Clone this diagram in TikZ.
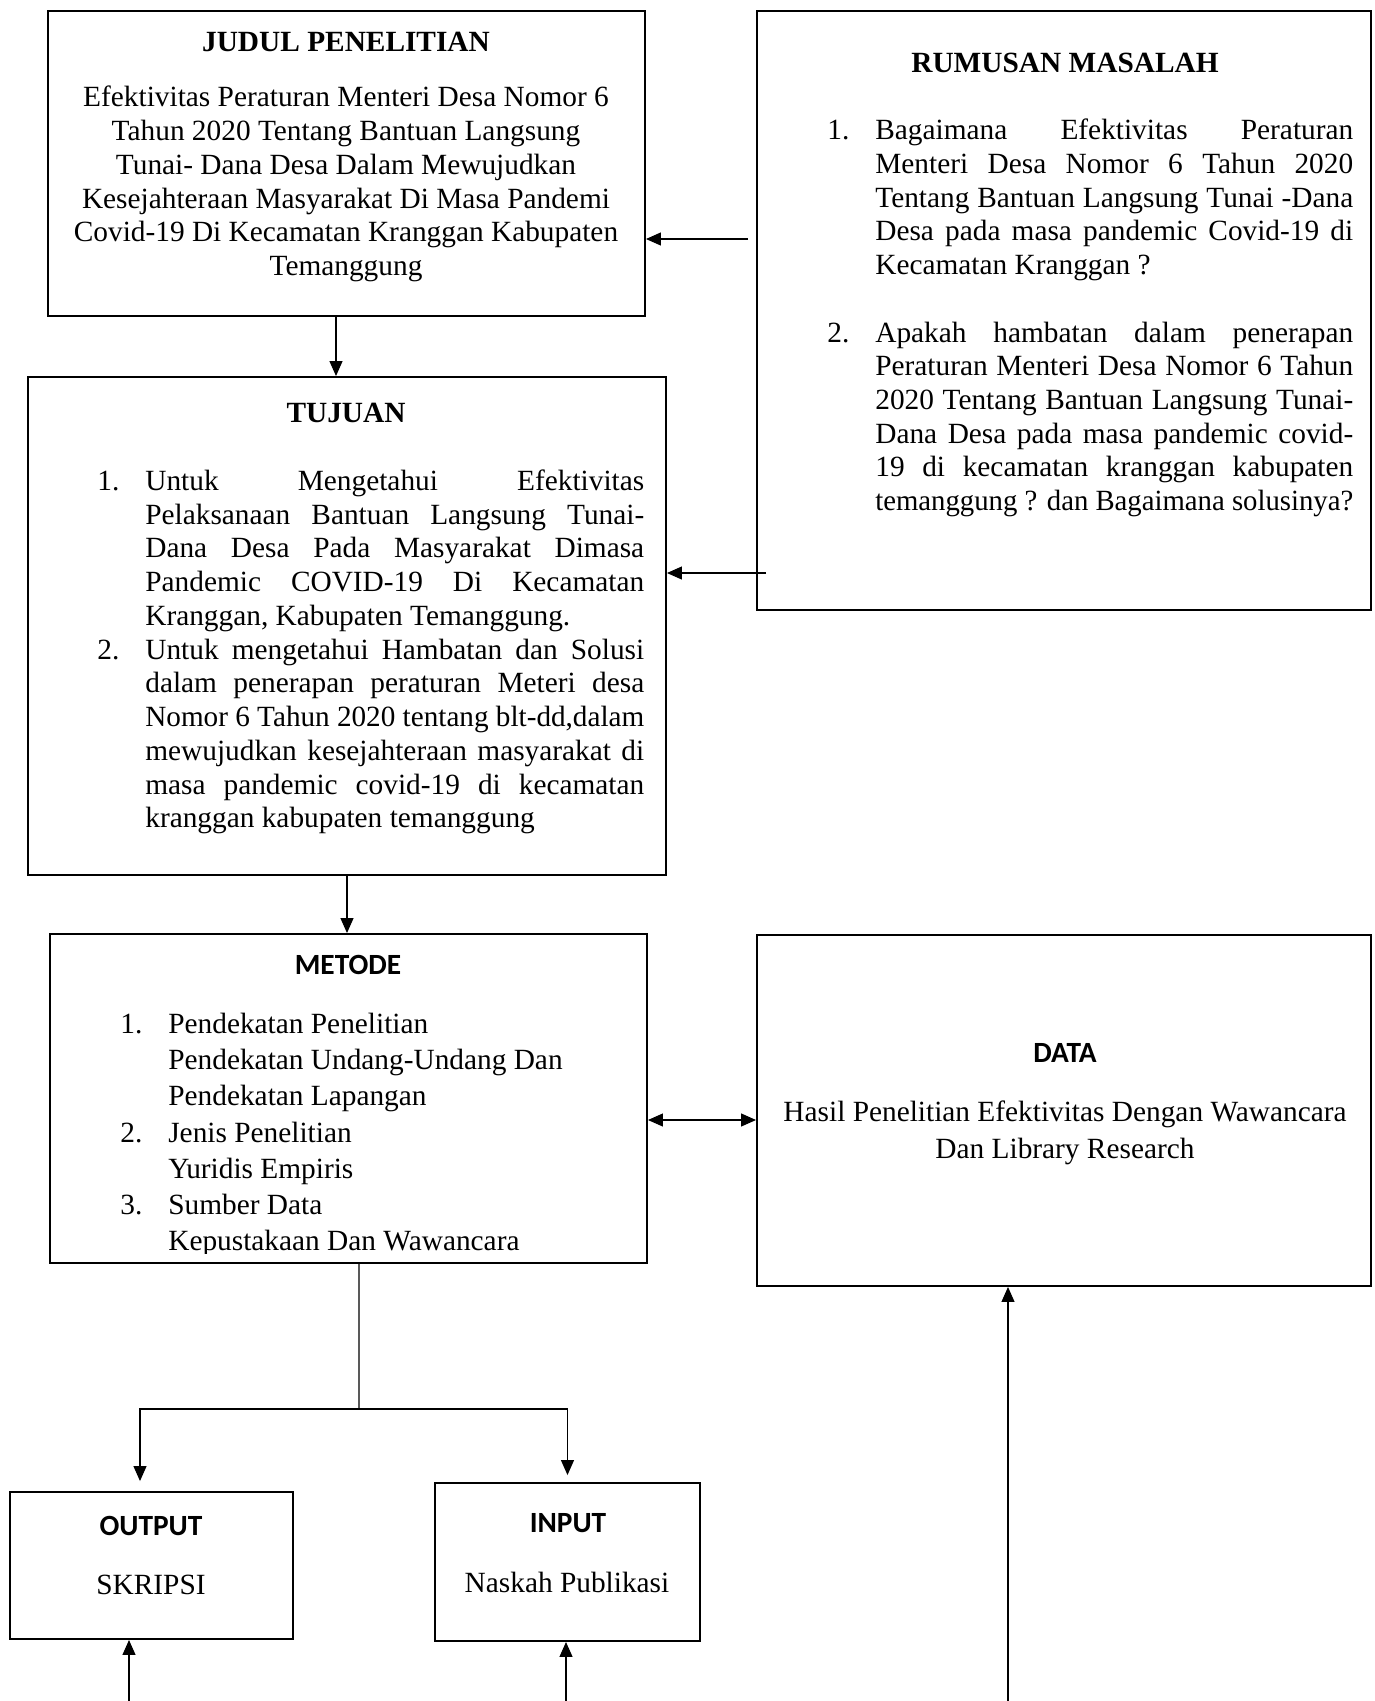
\documentclass[tikz,border=0pt]{standalone}
\usepackage{fontspec}
\setmainfont{Liberation Serif}
\newfontfamily\calfont{Carlito}
\usepackage{graphicx}
\usepackage{tikz}
\usetikzlibrary{
  arrows.meta,
  fit
}
\newlength{\numw}\setlength{\numw}{0.96cm}
\newlength{\bodyw}\setlength{\bodyw}{9.5cm}
\newlength{\natw}
\newcommand{\Jl}[1]{\settowidth{\natw}{#1}%
  \ifdim\natw>\bodyw\resizebox{\bodyw}{\height}{#1}\else\makebox[\bodyw][s]{#1}\fi}
\newcommand{\Nr}[2]{\makebox[\numw][l]{#1}#2}
\tikzset{
  box/.style={draw,line width=1.1pt,inner sep=0pt},
  head/.style={font=\fontsize{16.7}{19.2}\selectfont\bfseries,inner sep=0pt},
  headsf/.style={font=\fontsize{16.7}{19.2}\selectfont\calfont\bfseries,inner sep=0pt},
  body/.style={font=\fontsize{16.7}{19.2}\selectfont,inner sep=0pt},
  body width/.code={\setlength{\bodyw}{#1}},
  flow/.style={-{Triangle[length=3mm,width=2.6mm]},line width=0.7pt},
  biflow/.style={{Triangle[length=3mm,width=2.6mm]}-{Triangle[length=3mm,width=2.6mm]},
    line width=0.7pt}
}

\begin{document}
\begin{tikzpicture}[x=0.02cm,y=-0.02cm]
  \useasboundingbox (0,0) rectangle (1375,1701);

  \node[box,fit={(48,11) (645,316)}] (judul) {};
  \node[box,fit={(757,11) (1371,610)}] (rumusan) {};
  \node[box,fit={(28,377) (666,875)}] (tujuan) {};
  \node[box,fit={(50,934) (647,1263)}] (metode) {};
  \node[box,fit={(757,935) (1371,1286)}] (data) {};
  \node[box,fit={(10,1492) (293,1639)}] (output) {};
  \node[box,fit={(435,1483) (700,1641)}] (input) {};

  \node[head] (judulhd) at (346,42) {JUDUL PENELITIAN};
  \node[body,align=center] (judultx) at (346,184) {
    Efektivitas Peraturan Menteri Desa Nomor 6\\
    Tahun 2020 Tentang Bantuan Langsung\\
    Tunai- Dana Desa Dalam Mewujudkan\\
    Kesejahteraan Masyarakat Di Masa Pandemi\\
    Covid-19 Di Kecamatan Kranggan Kabupaten\\
    Temanggung};

  \node[head] (rumusanhd) at (1065,63) {RUMUSAN MASALAH};
  \node[body,align=left,anchor=west,body width=9.56cm] (rumusantx) at (827,318) {
    \Nr{1.}{\Jl{Bagaimana Efektivitas Peraturan}}\\
    \Nr{}{\Jl{Menteri Desa Nomor 6 Tahun 2020}}\\
    \Nr{}{\Jl{Tentang Bantuan Langsung Tunai -Dana}}\\
    \Nr{}{\Jl{Desa pada masa pandemic Covid-19 di}}\\
    \Nr{}{Kecamatan Kranggan ?}\\
    \mbox{}\\
    \Nr{2.}{\Jl{Apakah hambatan dalam penerapan}}\\
    \Nr{}{\Jl{Peraturan Menteri Desa Nomor 6 Tahun}}\\
    \Nr{}{\Jl{2020 Tentang Bantuan Langsung Tunai-}}\\
    \Nr{}{\Jl{Dana Desa pada masa pandemic covid-}}\\
    \Nr{}{\Jl{19 di kecamatan kranggan kabupaten}}\\
    \Nr{}{\Jl{temanggung ? dan Bagaimana solusinya?}}};

  \node[head] (tujuanhd) at (346,413) {TUJUAN};
  \node[body,align=left,anchor=west,body width=9.98cm] (tujuantx) at (97,652) {
    \Nr{1.}{\Jl{Untuk Mengetahui Efektivitas}}\\
    \Nr{}{\Jl{Pelaksanaan Bantuan Langsung Tunai-}}\\
    \Nr{}{\Jl{Dana Desa Pada Masyarakat Dimasa}}\\
    \Nr{}{\Jl{Pandemic COVID-19 Di Kecamatan}}\\
    \Nr{}{Kranggan, Kabupaten Temanggung.}\\
    \Nr{2.}{\Jl{Untuk mengetahui Hambatan dan Solusi}}\\
    \Nr{}{\Jl{dalam penerapan peraturan Meteri desa}}\\
    \Nr{}{\Jl{Nomor 6 Tahun 2020 tentang blt-dd,dalam}}\\
    \Nr{}{\Jl{mewujudkan kesejahteraan masyarakat di}}\\
    \Nr{}{\Jl{masa pandemic covid-19 di kecamatan}}\\
    \Nr{}{kranggan kabupaten temanggung}};

  \node[headsf] (metodehd) at (348,965) {METODE};
  \begin{scope}
    \clip (metode.north west) rectangle ([yshift=0.2cm]metode.south east);
    \node[body,align=left,anchor=west,font=\fontsize{16.7}{20.6}\selectfont]
      (metodetx) at (120,1135) {
      \Nr{1.}{Pendekatan Penelitian}\\
      \Nr{}{Pendekatan Undang-Undang Dan}\\
      \Nr{}{Pendekatan Lapangan}\\
      \Nr{2.}{Jenis Penelitian}\\
      \Nr{}{Yuridis Empiris}\\
      \Nr{3.}{Sumber Data}\\
      \Nr{}{Kepustakaan Dan Wawancara}};
  \end{scope}

  \node[headsf] (datahd) at (1065,1053) {DATA};
  \node[body,align=center,font=\fontsize{16.7}{21}\selectfont] (datatx) at (1065,1133) {
    Hasil Penelitian Efektivitas Dengan Wawancara\\
    Dan Library Research};

  \node[headsf] (outputhd) at (151,1526) {OUTPUT};
  \node[body] (outputtx) at (151,1585) {SKRIPSI};
  \node[headsf] (inputhd) at (568,1523) {INPUT};
  \node[body] (inputtx) at (567,1582) {Naskah Publikasi};

  \coordinate (rjudul) at (748,239);
  \coordinate (rtujuan) at (766,573);
  \draw[flow] (rjudul) -- (rjudul -| judul.east);
  \draw[flow] (rtujuan) -- (rtujuan -| tujuan.east);
  \draw[flow] ([xshift=-0.21cm]judul.south) -- ([xshift=-0.21cm]judul.south |- tujuan.north);
  \draw[flow] (tujuan.south) -- (tujuan.south |- metode.north);
  \draw[biflow] ([yshift=-0.43cm]metode.east) -- ([yshift=-0.43cm]metode.east -| data.west);

  \coordinate (fork) at (359,1409);
  \draw[line width=0.7pt] ([xshift=0.21cm]metode.south) -- (fork);
  \draw[flow,shorten >=0.2cm] (fork) -| ([xshift=-0.23cm]output.north);
  \draw[flow,shorten >=0.14cm] (fork) -| (input.north);

  \coordinate (boutput) at (129,1701);
  \coordinate (binput) at (566,1701);
  \coordinate (bdata) at (1008,1701);
  \draw[flow] (boutput) -- (boutput |- output.south);
  \draw[flow] (binput) -- (binput |- input.south);
  \draw[flow] (bdata) -- (bdata |- data.south);
\end{tikzpicture}
\end{document}
